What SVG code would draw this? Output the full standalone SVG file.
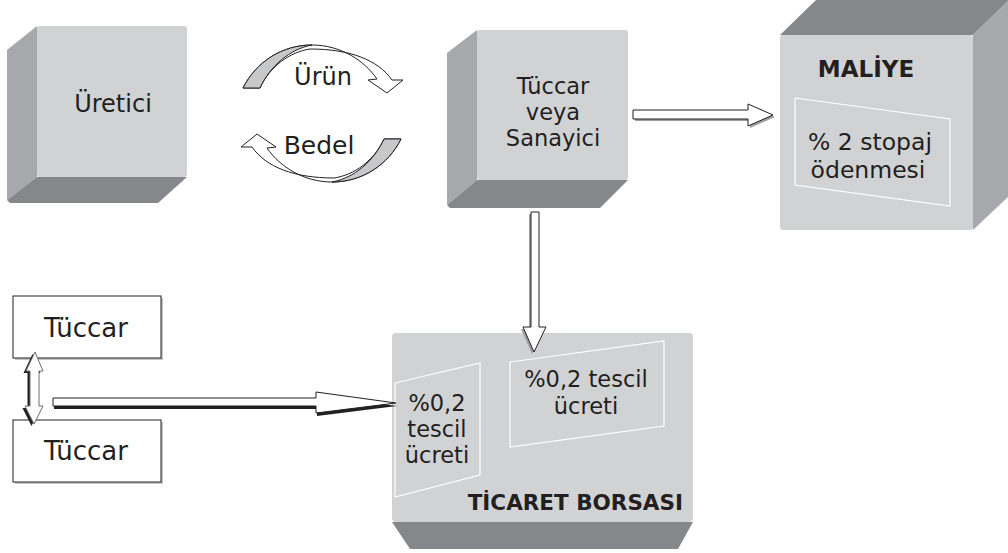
<svg xmlns="http://www.w3.org/2000/svg" width="1008" height="553" viewBox="0 0 1008 553">
<style>
.front{fill:#d1d2d4}
.side{fill:#a7a8ab}
.dark{fill:#86878a}
.t{font-family:"DejaVu Sans",sans-serif;fill:#231f20;text-anchor:middle}
.b{font-family:"DejaVu Sans",sans-serif;font-weight:bold;fill:#231f20}
.inner{fill:none;stroke:#ffffff;stroke-width:1.2}
.arr{fill:#ffffff;stroke:#231f20;stroke-width:1}
.box{fill:#ffffff;stroke:#231f20;stroke-width:1}
</style>
<rect width="1008" height="553" fill="#ffffff"/>

<g id="uretici">
<polygon class="side" points="37,26 7,50 7,200 37,177"/>
<polygon class="dark" points="37,177 187,177 158,203 10,203 7,200"/>
<rect class="front" x="37" y="26" width="150" height="151" rx="3"/>
<text class="t" x="113" y="112" font-size="24">Üretici</text>
</g>

<g id="sanayici">
<polygon class="side" points="477,30 447,53 447,205 477,180"/>
<polygon class="dark" points="477,180 628,180 600,208 450,208 447,205"/>
<rect class="front" x="477" y="30" width="151" height="150" rx="3"/>
<text class="t" x="553" y="94" font-size="22.5">Tüccar</text>
<text class="t" x="553" y="120" font-size="22.5">veya</text>
<text class="t" x="553" y="146" font-size="22.5">Sanayici</text>
</g>

<g id="maliye">
<polygon class="dark" points="780,35 816,0 1008,0 1008,1 973,35"/>
<polygon class="side" points="973,35 1008,1 1008,197 973,230"/>
<rect class="front" x="780" y="35" width="193" height="195" rx="3"/>
<polygon class="inner" points="795,98 950,119 950,206 795,185"/>
<text class="b" x="866" y="77" font-size="23" text-anchor="middle">MALİYE</text>
<text class="t" x="870" y="150" font-size="23.5">% 2 stopaj</text>
<text class="t" x="868" y="178" font-size="23.5">ödenmesi</text>
</g>

<g id="borsa">
<polygon class="dark" points="392,522 693,522 678,549 410,549"/>
<rect class="front" x="392" y="333" width="301" height="189" rx="4"/>
<polygon class="inner" points="395,383 480,363 480,475 395,497"/>
<polygon class="inner" points="510,362 664,341 664,426 510,447"/>
<text class="t" x="437" y="411" font-size="22.5">%0,2</text>
<text class="t" x="437" y="437" font-size="22.5">tescil</text>
<text class="t" x="437" y="463" font-size="22.5">ücreti</text>
<text class="t" x="586" y="387" font-size="22.5">%0,2 tescil</text>
<text class="t" x="586" y="414" font-size="22.5">ücreti</text>
<text class="b" x="683" y="510" font-size="21.5" text-anchor="end">TİCARET BORSASI</text>
</g>

<g id="tuccar1">
<rect x="15" y="298" width="148" height="62" fill="#c4c5c7"/>
<rect class="box" x="13" y="296" width="148" height="62"/>
<text class="t" x="86" y="337" font-size="26">Tüccar</text>
</g>

<g id="tuccar2">
<rect x="15" y="422" width="148" height="62" fill="#c4c5c7"/>
<rect class="box" x="13" y="420" width="148" height="62"/>
<text class="t" x="86" y="460" font-size="26">Tüccar</text>
</g>

<g id="urun">
<path class="arr" d="M243,88 C256,62 282,45 312,45 C340,45 364,60 377,79 L368,80 L387,93 L403,80 L392,80 C378,60 350,49 310,49 C290,52 270,66 260,88 Z"/>
<path d="M243,88 C256,62 282,45 312,45 C290,49 270,66 260,88 Z" fill="#c7c8ca" stroke="#231f20" stroke-width="1"/>
<text class="t" x="323" y="85" font-size="24">Ürün</text>
</g>

<g id="bedel">
<g transform="rotate(180 322 113.5)">
<path class="arr" d="M243,88 C256,62 282,45 312,45 C340,45 364,60 377,79 L368,80 L387,93 L403,80 L392,80 C378,60 350,49 310,49 C290,52 270,66 260,88 Z"/>
<path d="M243,88 C256,62 282,45 312,45 C290,49 270,66 260,88 Z" fill="#c7c8ca" stroke="#231f20" stroke-width="1"/>
</g>
<text class="t" x="319" y="154" font-size="25">Bedel</text>
</g>

<g id="connectors">
<polygon points="633,110 748,110 748,104 773,115 748,126 748,119 633,119" fill="#9d9ea1" transform="translate(2,2)"/>
<polygon class="arr" points="633,110 748,110 748,104 773,115 748,126 748,119 633,119"/>
<polygon points="531,212 539,212 539,327 546,327 534,352 523,327 531,327" fill="#9d9ea1" transform="translate(-2,2)"/>
<polygon class="arr" points="531,212 539,212 539,327 546,327 534,352 523,327 531,327"/>
<polygon points="53,398 316,398 316,392 396,403 316,413 316,406 53,406" fill="#231f20" transform="translate(1,3)"/>
<polygon class="arr" points="53,398 316,398 316,392 396,403 316,413 316,406 53,406"/>
<polygon points="35,352 43,371 39,371 39,406 43,406 34,424 25,406 30,406 30,371 26,371" fill="#231f20" transform="translate(-2.5,2)"/>
<polygon points="35,352 43,371 39,371 39,406 43,406 34,424 25,406 30,406 30,371 26,371" fill="#ffffff" stroke="#6d6e71" stroke-width="1"/>
</g>
</svg>
